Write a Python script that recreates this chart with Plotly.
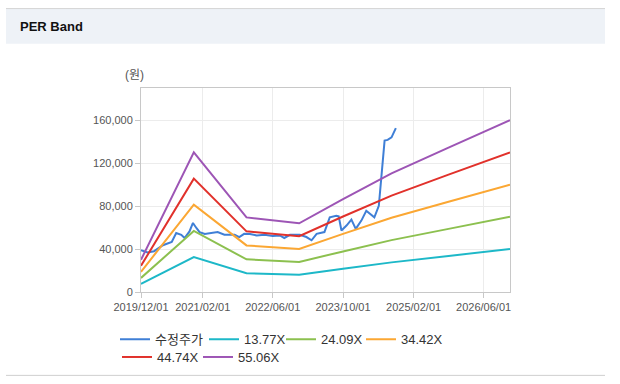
import plotly.graph_objects as go

# ---------------- data ----------------
price_dates = [
    "2019-12-01", "2020-01-15", "2020-03-01", "2020-05-01", "2020-07-01", "2020-08-01",
    "2020-09-05", "2020-09-28", "2020-11-01", "2020-11-25", "2020-12-20", "2021-01-10",
    "2021-02-15", "2021-04-01", "2021-05-15", "2021-07-01", "2021-09-10", "2021-10-12",
    "2021-11-15", "2021-12-25", "2022-02-10", "2022-04-05", "2022-06-01", "2022-07-20",
    "2022-08-20", "2022-09-28", "2022-12-05", "2023-01-20", "2023-02-25", "2023-04-01",
    "2023-05-25", "2023-07-01", "2023-08-15", "2023-09-01", "2023-09-20", "2023-10-25",
    "2023-11-28", "2023-12-28", "2024-02-05", "2024-03-10", "2024-04-15", "2024-05-05",
    "2024-06-05", "2024-06-20", "2024-07-15", "2024-08-05", "2024-09-01", "2024-10-01",
]
price_values = [
    39000, 36800, 38000, 43600, 46600, 55000,
    53300, 50300, 56400, 64300, 59400, 55800,
    54000, 55000, 55800, 53300, 53300, 51200,
    54200, 54000, 52700, 53300, 52100, 52700,
    50300, 53300, 53300, 51200, 48200, 54200,
    55800, 69500, 71000, 70400, 57300, 61900,
    67400, 58800, 66500, 75600, 71600, 69500,
    80200, 101500, 141000, 141700, 144000, 152700,
]

band_dates = ["2019-12-01", "2020-12-01", "2021-12-01", "2022-07-01", "2022-12-01",
              "2023-10-01", "2024-09-01", "2025-10-01", "2026-12-01"]
band_1377 = [7500, 32500, 17400, 16600, 16000, 21600, 27600, 33600, 40000]
band_2409 = [13100, 56900, 30400, 29100, 28000, 37800, 48300, 58800, 70000]
band_3442 = [18800, 81300, 43400, 41600, 40000, 54100, 69100, 84100, 100000]
band_4474 = [24400, 105600, 56500, 54000, 52000, 70300, 89800, 109300, 130000]
band_5506 = [30000, 130000, 69500, 66500, 64000, 86500, 110500, 134500, 160000]

series_names = ["수정주가", "13.77X", "24.09X", "34.42X", "44.74X", "55.06X"]

x_tick_vals = ["2019-12-01", "2021-02-01", "2022-06-01", "2023-10-01", "2025-02-01", "2026-06-01"]
x_tick_text = ["2019/12/01", "2021/02/01", "2022/06/01", "2023/10/01", "2025/02/01", "2026/06/01"]
y_tick_vals = [0, 40000, 80000, 120000, 160000]

# ---------------- styling ----------------
colors = ["#3f7fd6", "#1db8c8", "#8cc04f", "#fba733", "#e1312b", "#9d55b5"]
W, H = 620, 384
L, R, T, B = 141, 110, 88, 88
PW, PH = W - L - R, H - T - B


def px(sx):
    """screen x (pixels) -> paper x"""
    return (sx - L) / PW


def py(sy):
    """screen y (pixels) -> paper y"""
    return (H - B - sy) / PH


FONT = "Liberation Sans, Arial, Noto Sans CJK KR, sans-serif"

# one legend box per entry (label text x, row top y) to mimic the original layout
legend_ids = ["legend", "legend2", "legend3", "legend4", "legend5", "legend6"]
legend_pos = [(155, 329), (244, 329), (321, 329), (401, 329), (157, 347), (238, 347)]

fig = go.Figure()
fig.add_trace(go.Scatter(x=price_dates, y=price_values, name=series_names[0], mode="lines",
                         line=dict(color=colors[0], width=2), legend=legend_ids[0]))
band_sets = [band_1377, band_2409, band_3442, band_4474, band_5506]
for i, (name, vals, c) in enumerate(zip(series_names[1:], band_sets, colors[1:])):
    fig.add_trace(go.Scatter(x=band_dates, y=vals, name=name, mode="lines",
                             line=dict(color=c, width=2), legend=legend_ids[i + 1]))

legends = {}
for lid, (tx, ty) in zip(legend_ids, legend_pos):
    legends[lid] = dict(x=px(tx - 40), y=py(ty), orientation="h", xanchor="left", yanchor="top",
                        itemwidth=30, font=dict(family=FONT, size=13, color="#333333"),
                        bgcolor="rgba(0,0,0,0)", itemclick=False, itemdoubleclick=False)

fig.update_layout(
    width=W, height=H,
    margin=dict(l=L, r=R, t=T, b=B, pad=0),
    paper_bgcolor="#ffffff", plot_bgcolor="#ffffff",
    font=dict(family=FONT, size=11, color="#555555"),
    showlegend=True,
    **legends,
    xaxis=dict(type="date", range=["2019-12-01", "2026-12-01"],
               tickvals=x_tick_vals, ticktext=x_tick_text,
               showgrid=True, gridcolor="#ececec", gridwidth=1,
               showline=True, linecolor="#c8c8c8", linewidth=1, mirror=True,
               ticks="outside", ticklen=5, tickcolor="#c8c8c8",
               tickfont=dict(size=11, color="#555555"), zeroline=False),
    yaxis=dict(range=[0, 190000], tickvals=y_tick_vals, tickformat=",",
               showgrid=True, gridcolor="#ececec", gridwidth=1,
               showline=True, linecolor="#c8c8c8", linewidth=1, mirror=True,
               ticks="outside", ticklen=5, tickcolor="#c8c8c8",
               tickfont=dict(size=11, color="#555555"), zeroline=False),
    shapes=[
        dict(type="rect", xref="paper", yref="paper", x0=px(6), x1=px(605), y0=py(43), y1=py(7),
             fillcolor="#eef2f7", line=dict(width=0), layer="below"),
        dict(type="line", xref="paper", yref="paper", x0=px(6), x1=px(605), y0=py(7), y1=py(7),
             line=dict(color="#d6d6d6", width=1)),
        dict(type="line", xref="paper", yref="paper", x0=px(6), x1=px(605), y0=py(381), y1=py(381),
             line=dict(color="#cfcfcf", width=1)),
    ],
    annotations=[
        dict(text="<b>PER Band</b>", xref="paper", yref="paper", x=px(18), y=py(25),
             xanchor="left", yanchor="middle", showarrow=False,
             font=dict(family=FONT, size=13, color="#111111")),
        dict(text="(원)", xref="paper", yref="paper", x=px(134), y=py(75),
             xanchor="center", yanchor="middle", showarrow=False,
             font=dict(family=FONT, size=12, color="#555555")),
    ],
)

# remove the browser's default 8px body margin so the figure sits at (0, 0)
fig.write_html("out.html",
               config={"displayModeBar": False},
               post_script="document.body.style.margin='0';"
                           "document.documentElement.style.overflow='hidden';")
